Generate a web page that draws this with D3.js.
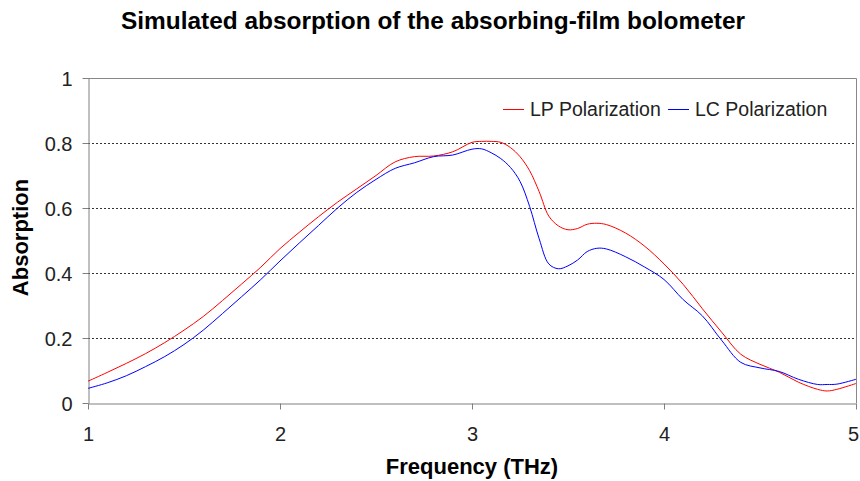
<!DOCTYPE html>
<html>
<head>
<meta charset="utf-8">
<script src="https://cdn.jsdelivr.net/npm/d3@7"></script>
<style>
  html, body { margin: 0; padding: 0; background: #fff; }
  svg { display: block; font-family: "Liberation Sans", Arial, sans-serif; }
</style>
</head>
<body>
<svg id="chart" width="860" height="481"></svg>
<script>
// Frequency grid (THz) shared by both series
const freq = [1.0, 1.1, 1.2, 1.3, 1.4, 1.5, 1.6, 1.7, 1.8, 1.9,
              2.0, 2.1, 2.2, 2.3, 2.4, 2.5, 2.6, 2.7, 2.8, 2.9,
              3.0, 3.05, 3.1, 3.15, 3.2, 3.25, 3.3, 3.35, 3.4, 3.45,
              3.5, 3.55, 3.6, 3.65, 3.7, 3.8, 3.9, 4.0, 4.1, 4.2,
              4.3, 4.4, 4.5, 4.6, 4.7, 4.8, 4.85, 4.9, 5.0];

// Linear polarization absorption
const lpAbs = [0.067, 0.094, 0.122, 0.152, 0.186, 0.224, 0.266, 0.315, 0.366, 0.418,
               0.475, 0.525, 0.573, 0.618, 0.659, 0.700, 0.742, 0.758, 0.760, 0.773,
               0.802, 0.805, 0.805, 0.802, 0.786, 0.758, 0.715, 0.650, 0.575, 0.545,
               0.533, 0.537, 0.550, 0.553, 0.549, 0.523, 0.482, 0.428, 0.365, 0.290,
               0.218, 0.150, 0.119, 0.095, 0.064, 0.042, 0.037, 0.042, 0.060];

// Circular polarization absorption
const lcAbs = [0.045, 0.062, 0.084, 0.112, 0.143, 0.180, 0.224, 0.275, 0.327, 0.380,
               0.437, 0.492, 0.546, 0.600, 0.648, 0.688, 0.722, 0.739, 0.758, 0.763,
               0.781, 0.782, 0.770, 0.752, 0.725, 0.682, 0.605, 0.505, 0.428, 0.413,
               0.422, 0.440, 0.466, 0.476, 0.474, 0.450, 0.418, 0.380, 0.318, 0.268,
               0.193, 0.125, 0.108, 0.097, 0.073, 0.057, 0.057, 0.058, 0.073];

const xTicks = [1, 2, 3, 4, 5];
const yTicks = [0, 0.2, 0.4, 0.6, 0.8, 1];
const seriesNames = ["LP Polarization", "LC Polarization"];
const seriesColors = ["#ff0000", "#0000ff"];

const plot = { left: 88, right: 856, top: 78, bottom: 403 };
const svg = d3.select("#chart");

const x = d3.scaleLinear().domain([1, 5]).range([plot.left, plot.right]);
const y = d3.scaleLinear().domain([0, 1]).range([plot.bottom, plot.top]);

// Title
svg.append("text")
  .attr("x", 433).attr("y", 29)
  .attr("text-anchor", "middle")
  .attr("font-size", 23).attr("font-weight", "bold")
  .attr("textLength", 624).attr("lengthAdjust", "spacingAndGlyphs")
  .attr("fill", "#000")
  .text("Simulated absorption of the absorbing-film bolometer");

// Dotted gridlines
svg.append("g")
  .selectAll("line")
  .data(yTicks.filter(t => t > 0 && t < 1))
  .join("line")
  .attr("x1", plot.left).attr("x2", plot.right)
  .attr("y1", d => y(d) + 0.5).attr("y2", d => y(d) + 0.5)
  .attr("stroke", "#333").attr("stroke-width", 1)
  .attr("stroke-dasharray", "2,2");

// Plot-area frame (top and right)
svg.append("path")
  .attr("d", `M${plot.left},${plot.top + 0.5}H${plot.right + 0.5}V${plot.bottom}`)
  .attr("fill", "none").attr("stroke", "#888").attr("stroke-width", 1);

// Axes
const xAxis = svg.append("g")
  .attr("transform", `translate(0,${plot.bottom + 0.5})`)
  .call(d3.axisBottom(x).tickValues(xTicks).tickFormat(d3.format("d")).tickSize(6).tickSizeOuter(0));
const yAxis = svg.append("g")
  .attr("transform", `translate(${plot.left + 0.5},0)`)
  .call(d3.axisLeft(y).tickValues(yTicks).tickFormat(d => d === 0 || d === 1 ? d3.format("d")(d) : d3.format(".1f")(d)).tickSize(6).tickSizeOuter(0));

[xAxis, yAxis].forEach(g => {
  g.select(".domain").attr("stroke", "#808080");
  g.selectAll(".tick line").attr("stroke", "#808080");
  g.selectAll(".tick text")
    .attr("font-family", "'Liberation Sans', Arial, sans-serif")
    .attr("font-size", 20).attr("fill", "#222");
});
xAxis.selectAll(".tick text").attr("y", 37).attr("dy", 0)
  .attr("dx", d => d === 5 ? -3 : 0);
yAxis.selectAll(".tick text").attr("x", -16).attr("dy", "0.36em");

// Axis titles
svg.append("text")
  .attr("x", x(3)).attr("y", 474)
  .attr("text-anchor", "middle")
  .attr("font-size", 22).attr("font-weight", "bold")
  .text("Frequency (THz)");
svg.append("text")
  .attr("transform", `translate(28,${(plot.top + plot.bottom) / 2 - 3}) rotate(-90)`)
  .attr("text-anchor", "middle")
  .attr("font-size", 22).attr("font-weight", "bold")
  .text("Absorption");

// Curves
const line = d3.line()
  .x(d => x(d[0]))
  .y(d => y(d[1]))
  .curve(d3.curveCatmullRom.alpha(0.5));

[lpAbs, lcAbs].forEach((vals, i) => {
  svg.append("path")
    .datum(freq.map((f, j) => [f, vals[j]]))
    .attr("d", line)
    .attr("fill", "none")
    .attr("stroke", seriesColors[i])
    .attr("stroke-width", 1);
});

// Legend
const legend = svg.append("g").attr("transform", "translate(503,109)");
const legendOffsets = [0, 165];
seriesNames.forEach((name, i) => {
  const g = legend.append("g").attr("transform", `translate(${legendOffsets[i]},0)`);
  g.append("line")
    .attr("x1", 0).attr("x2", 21).attr("y1", 0.5).attr("y2", 0.5)
    .attr("stroke", seriesColors[i]).attr("stroke-width", 1);
  g.append("text")
    .attr("x", 27).attr("y", 0).attr("dy", "0.36em")
    .attr("font-size", 19.5).attr("fill", "#222")
    .text(name);
});
</script>
</body>
</html>
